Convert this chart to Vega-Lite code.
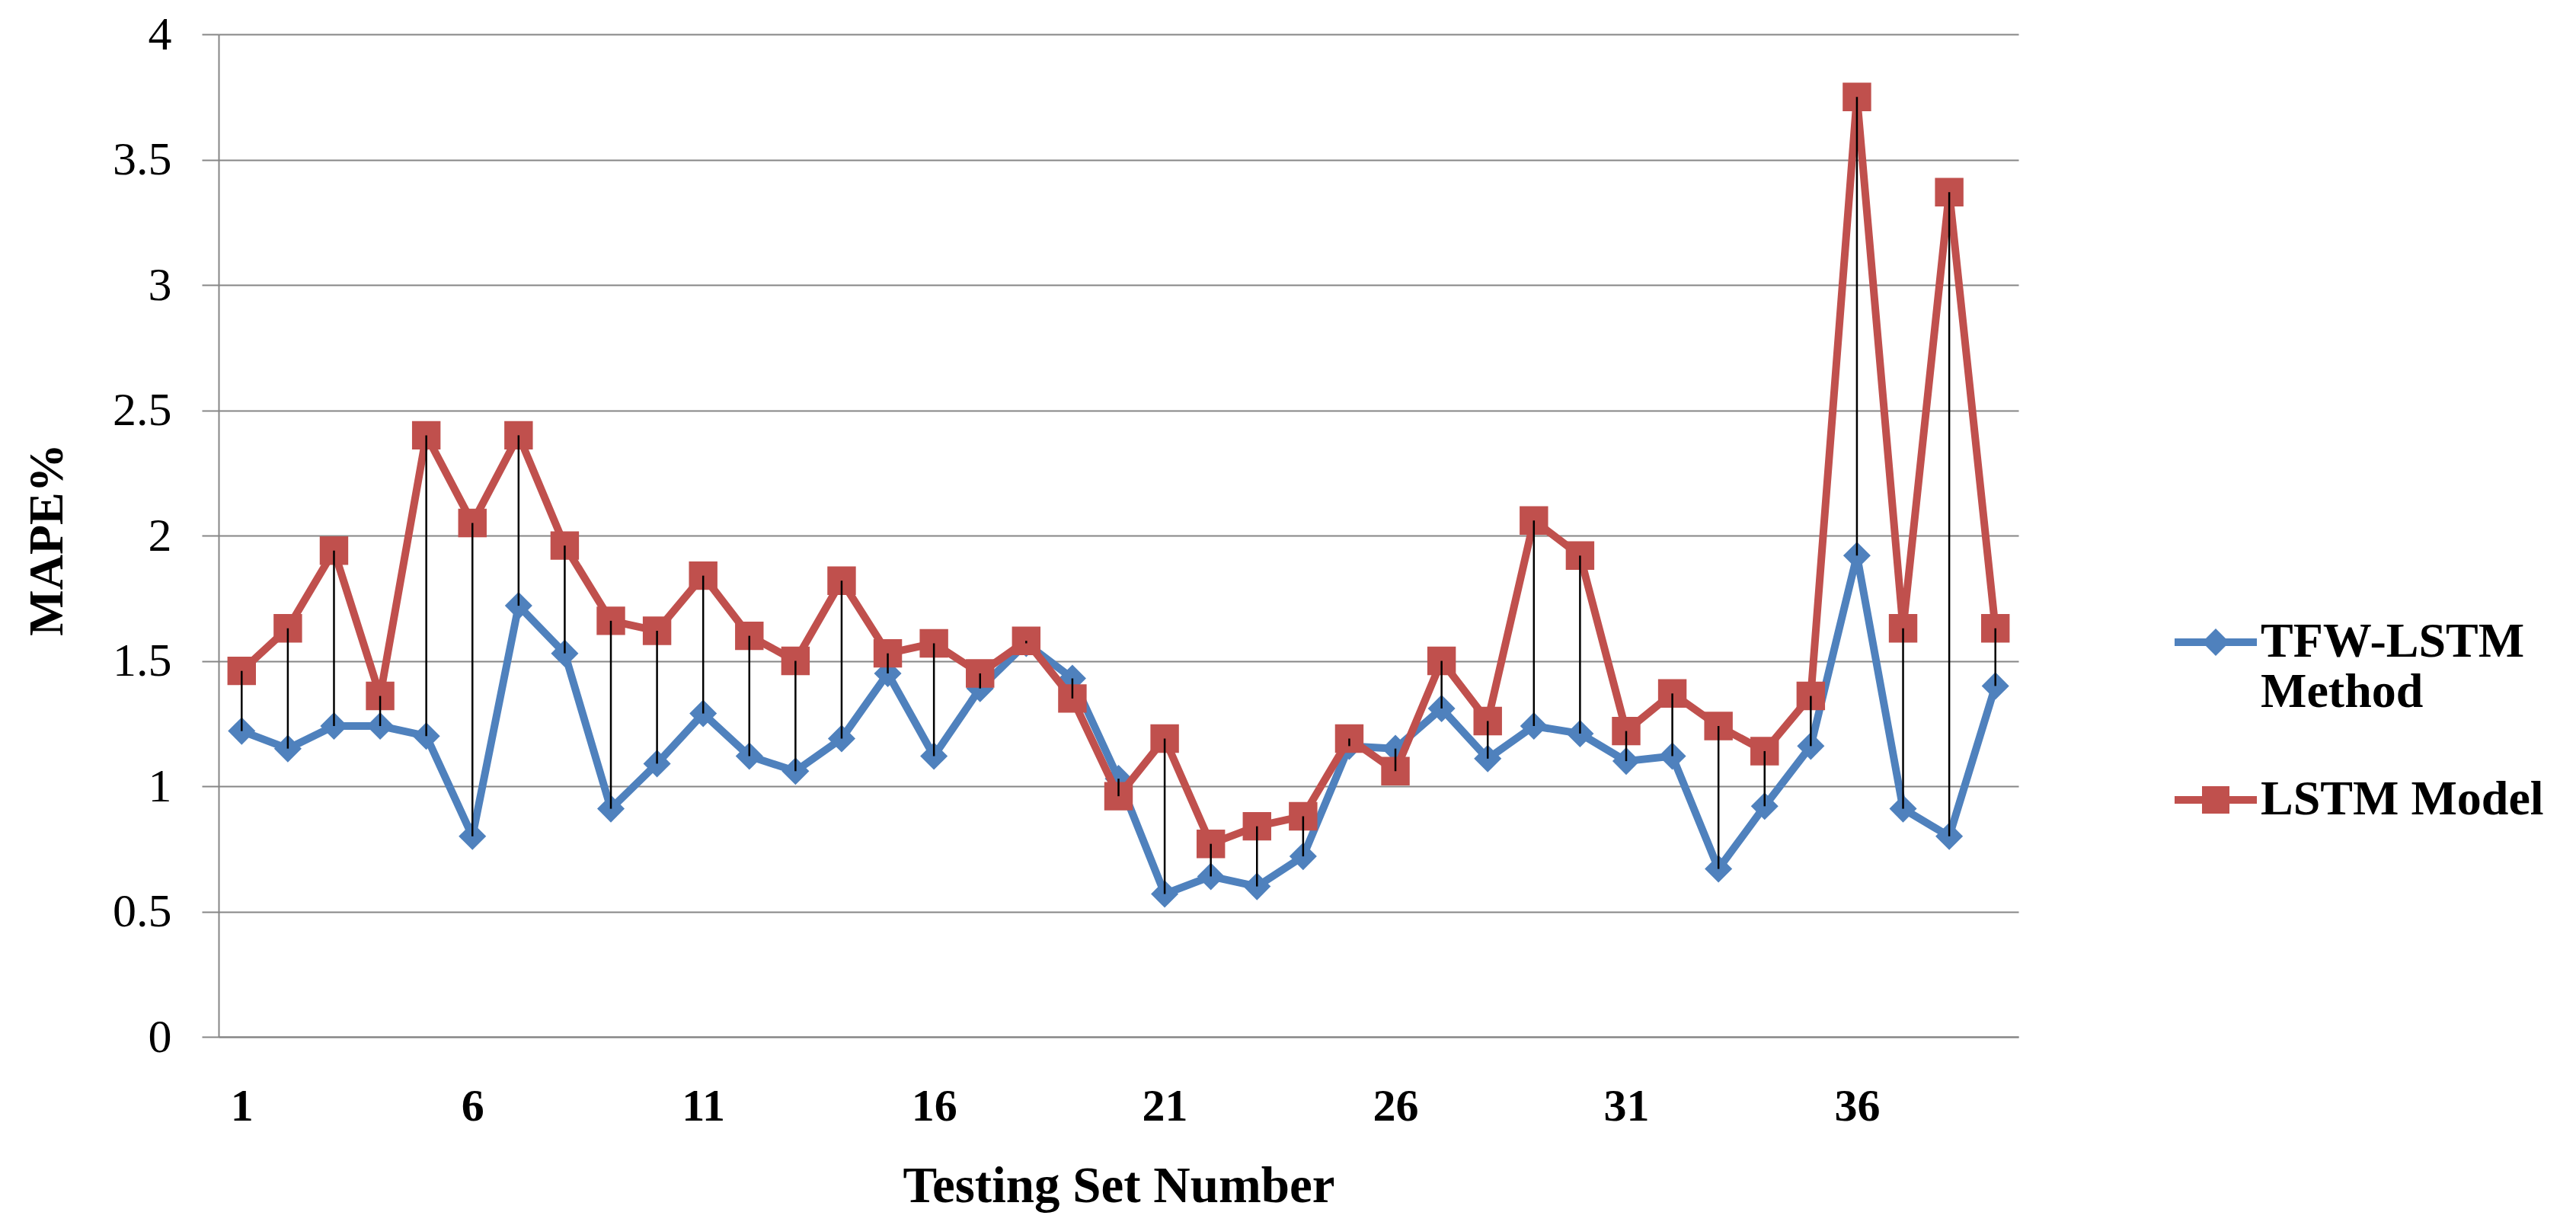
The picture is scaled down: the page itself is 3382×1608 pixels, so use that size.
{
  "$schema": "https://vega.github.io/schema/vega-lite/v6.json",
  "width": 2363,
  "height": 1316,
  "autosize": {"type": "none"},
  "padding": {"left": 287, "top": 45, "right": 732, "bottom": 247},
  "background": "white",
  "config": {"view": {"stroke": null}, "font": "Liberation Serif"},
  "data": {"values": [
    {"n": 1, "series": "TFW-LSTM Method", "mape": 1.22},
    {"n": 2, "series": "TFW-LSTM Method", "mape": 1.15},
    {"n": 3, "series": "TFW-LSTM Method", "mape": 1.24},
    {"n": 4, "series": "TFW-LSTM Method", "mape": 1.24},
    {"n": 5, "series": "TFW-LSTM Method", "mape": 1.20},
    {"n": 6, "series": "TFW-LSTM Method", "mape": 0.80},
    {"n": 7, "series": "TFW-LSTM Method", "mape": 1.72},
    {"n": 8, "series": "TFW-LSTM Method", "mape": 1.53},
    {"n": 9, "series": "TFW-LSTM Method", "mape": 0.91},
    {"n": 10, "series": "TFW-LSTM Method", "mape": 1.09},
    {"n": 11, "series": "TFW-LSTM Method", "mape": 1.29},
    {"n": 12, "series": "TFW-LSTM Method", "mape": 1.12},
    {"n": 13, "series": "TFW-LSTM Method", "mape": 1.06},
    {"n": 14, "series": "TFW-LSTM Method", "mape": 1.19},
    {"n": 15, "series": "TFW-LSTM Method", "mape": 1.45},
    {"n": 16, "series": "TFW-LSTM Method", "mape": 1.12},
    {"n": 17, "series": "TFW-LSTM Method", "mape": 1.39},
    {"n": 18, "series": "TFW-LSTM Method", "mape": 1.57},
    {"n": 19, "series": "TFW-LSTM Method", "mape": 1.43},
    {"n": 20, "series": "TFW-LSTM Method", "mape": 1.03},
    {"n": 21, "series": "TFW-LSTM Method", "mape": 0.57},
    {"n": 22, "series": "TFW-LSTM Method", "mape": 0.64},
    {"n": 23, "series": "TFW-LSTM Method", "mape": 0.60},
    {"n": 24, "series": "TFW-LSTM Method", "mape": 0.72},
    {"n": 25, "series": "TFW-LSTM Method", "mape": 1.16},
    {"n": 26, "series": "TFW-LSTM Method", "mape": 1.15},
    {"n": 27, "series": "TFW-LSTM Method", "mape": 1.31},
    {"n": 28, "series": "TFW-LSTM Method", "mape": 1.11},
    {"n": 29, "series": "TFW-LSTM Method", "mape": 1.24},
    {"n": 30, "series": "TFW-LSTM Method", "mape": 1.21},
    {"n": 31, "series": "TFW-LSTM Method", "mape": 1.10},
    {"n": 32, "series": "TFW-LSTM Method", "mape": 1.12},
    {"n": 33, "series": "TFW-LSTM Method", "mape": 0.67},
    {"n": 34, "series": "TFW-LSTM Method", "mape": 0.92},
    {"n": 35, "series": "TFW-LSTM Method", "mape": 1.16},
    {"n": 36, "series": "TFW-LSTM Method", "mape": 1.92},
    {"n": 37, "series": "TFW-LSTM Method", "mape": 0.91},
    {"n": 38, "series": "TFW-LSTM Method", "mape": 0.80},
    {"n": 39, "series": "TFW-LSTM Method", "mape": 1.40},
    {"n": 1, "series": "LSTM Model", "mape": 1.46},
    {"n": 2, "series": "LSTM Model", "mape": 1.63},
    {"n": 3, "series": "LSTM Model", "mape": 1.94},
    {"n": 4, "series": "LSTM Model", "mape": 1.36},
    {"n": 5, "series": "LSTM Model", "mape": 2.40},
    {"n": 6, "series": "LSTM Model", "mape": 2.05},
    {"n": 7, "series": "LSTM Model", "mape": 2.40},
    {"n": 8, "series": "LSTM Model", "mape": 1.96},
    {"n": 9, "series": "LSTM Model", "mape": 1.66},
    {"n": 10, "series": "LSTM Model", "mape": 1.62},
    {"n": 11, "series": "LSTM Model", "mape": 1.84},
    {"n": 12, "series": "LSTM Model", "mape": 1.60},
    {"n": 13, "series": "LSTM Model", "mape": 1.50},
    {"n": 14, "series": "LSTM Model", "mape": 1.82},
    {"n": 15, "series": "LSTM Model", "mape": 1.53},
    {"n": 16, "series": "LSTM Model", "mape": 1.57},
    {"n": 17, "series": "LSTM Model", "mape": 1.45},
    {"n": 18, "series": "LSTM Model", "mape": 1.58},
    {"n": 19, "series": "LSTM Model", "mape": 1.35},
    {"n": 20, "series": "LSTM Model", "mape": 0.96},
    {"n": 21, "series": "LSTM Model", "mape": 1.19},
    {"n": 22, "series": "LSTM Model", "mape": 0.77},
    {"n": 23, "series": "LSTM Model", "mape": 0.84},
    {"n": 24, "series": "LSTM Model", "mape": 0.88},
    {"n": 25, "series": "LSTM Model", "mape": 1.19},
    {"n": 26, "series": "LSTM Model", "mape": 1.06},
    {"n": 27, "series": "LSTM Model", "mape": 1.50},
    {"n": 28, "series": "LSTM Model", "mape": 1.26},
    {"n": 29, "series": "LSTM Model", "mape": 2.06},
    {"n": 30, "series": "LSTM Model", "mape": 1.92},
    {"n": 31, "series": "LSTM Model", "mape": 1.22},
    {"n": 32, "series": "LSTM Model", "mape": 1.37},
    {"n": 33, "series": "LSTM Model", "mape": 1.24},
    {"n": 34, "series": "LSTM Model", "mape": 1.14},
    {"n": 35, "series": "LSTM Model", "mape": 1.36},
    {"n": 36, "series": "LSTM Model", "mape": 3.75},
    {"n": 37, "series": "LSTM Model", "mape": 1.63},
    {"n": 38, "series": "LSTM Model", "mape": 3.37},
    {"n": 39, "series": "LSTM Model", "mape": 1.63}
  ]},
  "encoding": {
    "x": {
      "field": "n", "type": "quantitative",
      "scale": {"domain": [0.5, 39.5], "nice": false, "zero": false},
      "axis": {
        "values": [1, 6, 11, 16, 21, 26, 31, 36], "format": "d",
        "grid": false, "ticks": false, "tickSize": 0,
        "domainColor": "#868686", "domainWidth": 2,
        "labelFont": "Liberation Serif", "labelFontSize": 60, "labelFontWeight": "bold", "labelColor": "black",
        "labelPadding": 62, "labelBaseline": "top",
        "title": "Testing Set Number",
        "titleFont": "Liberation Serif", "titleFontSize": 67, "titleFontWeight": "bold", "titleColor": "black",
        "titleBaseline": "alphabetic", "titleY": 216
      }
    },
    "y": {
      "field": "mape", "type": "quantitative",
      "scale": {"domain": [0, 4], "nice": false},
      "axis": {
        "values": [0, 0.5, 1, 1.5, 2, 2.5, 3, 3.5, 4], "format": "~g",
        "grid": true, "gridColor": "#868686", "gridWidth": 2,
        "domainColor": "#868686", "domainWidth": 2,
        "tickColor": "#868686", "tickWidth": 2, "tickSize": 22,
        "labelFont": "Liberation Serif", "labelFontSize": 62, "labelColor": "black", "labelPadding": 40,
        "title": "MAPE%",
        "titleFont": "Liberation Serif", "titleFontSize": 64, "titleFontWeight": "bold", "titleColor": "black",
        "titleAngle": 270, "titleBaseline": "middle", "titleAlign": "center",
        "titleX": -225, "titleY": 663
      }
    }
  },
  "layer": [
    {
      "transform": [{"filter": "datum.series == 'TFW-LSTM Method'"}],
      "mark": {"type": "line", "strokeWidth": 10, "strokeJoin": "round", "color": "#4F81BD"},
      "encoding": {}
    },
    {
      "transform": [{"filter": "datum.series == 'TFW-LSTM Method'"}],
      "mark": {"type": "point", "shape": "diamond", "filled": true, "opacity": 1, "size": 1300, "color": "#4F81BD"},
      "encoding": {}
    },
    {
      "transform": [{"filter": "datum.series == 'LSTM Model'"}],
      "mark": {"type": "line", "strokeWidth": 10, "strokeJoin": "round", "color": "#C0504D"},
      "encoding": {}
    },
    {
      "transform": [{"filter": "datum.series == 'LSTM Model'"}],
      "mark": {"type": "point", "shape": "square", "filled": true, "opacity": 1, "size": 1400, "color": "#C0504D"},
      "encoding": {}
    },
    {
      "transform": [{"pivot": "series", "value": "mape", "groupby": ["n"]}],
      "mark": {"type": "rule", "color": "black", "strokeWidth": 2.5},
      "encoding": {
        "y": {"field": "TFW-LSTM Method", "type": "quantitative"},
        "y2": {"field": "LSTM Model"}
      }
    },
    {
      "mark": {"type": "point", "filled": true, "opacity": 0.001},
      "encoding": {
        "fill": {"field": "series", "type": "nominal",
          "scale": {"domain": ["TFW-LSTM Method", "LSTM Model"], "range": ["#4F81BD", "#C0504D"]},
          "legend": {
            "orient": "none", "legendX": 2590, "legendY": 766, "title": null,
            "labelFont": "Liberation Serif", "labelFontSize": 64, "labelFontWeight": "bold", "labelColor": "black",
            "labelLimit": 1000, "labelOffset": 27, "rowPadding": 77,
            "symbolSize": 1296, "symbolOpacity": 1, "symbolStrokeWidth": 0,
            "labelExpr": "datum.label == 'TFW-LSTM Method' ? ['TFW-LSTM', 'Method'] : datum.label"
          }},
        "shape": {"field": "series", "type": "nominal",
          "scale": {"domain": ["TFW-LSTM Method", "LSTM Model"],
            "range": [
              "M-3,-0.28 L-0.72,-0.28 L0,-1 L0.72,-0.28 L3,-0.28 L3,0.28 L0.72,0.28 L0,1 L-0.72,0.28 L-3,0.28 Z",
              "M-3,-0.28 L-1,-0.28 L-1,-1 L1,-1 L1,-0.28 L3,-0.28 L3,0.28 L1,0.28 L1,1 L-1,1 L-1,0.28 L-3,0.28 Z"
            ]},
          "legend": {
            "orient": "none", "legendX": 2590, "legendY": 766, "title": null,
            "labelFont": "Liberation Serif", "labelFontSize": 64, "labelFontWeight": "bold", "labelColor": "black",
            "labelLimit": 1000, "labelOffset": 27, "rowPadding": 77,
            "symbolSize": 1296, "symbolOpacity": 1, "symbolStrokeWidth": 0,
            "labelExpr": "datum.label == 'TFW-LSTM Method' ? ['TFW-LSTM', 'Method'] : datum.label"
          }}
      }
    }
  ]
}
